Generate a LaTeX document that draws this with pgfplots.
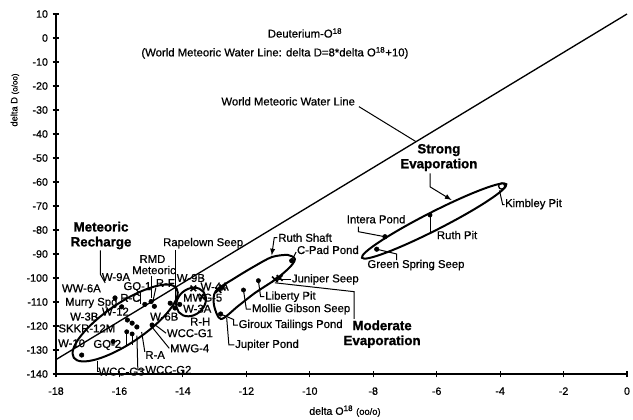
\documentclass[border=0pt]{standalone}
\usepackage{fontspec}
\setmainfont{Liberation Sans}[UprightFeatures={FakeBold=0.7}, BoldFeatures={FakeBold=1.2}]
\usepackage{pgfplots}
\pgfplotsset{compat=1.18}
\begin{document}
\begin{tikzpicture}[
  lbl/.style={font=\fontsize{8.5}{9.5}\selectfont, inner sep=0pt, anchor=west},
  ttl/.style={font=\fontsize{8.5}{9.5}\selectfont, inner sep=0pt},
  big/.style={font=\fontsize{10}{11.2}\selectfont\bfseries, inner sep=0pt, align=center},
  ld/.style={line width=0.75pt},
  rg/.style={line width=1.5pt}]
\useasboundingbox (-42pt,-33.75pt) rectangle (432.75pt,280.5pt);
\begin{axis}[
  width=428.25pt, height=270pt, scale only axis,
  xmin=-18, xmax=0, ymin=-140, ymax=10,
  axis x line=bottom, axis y line=left,
  axis line style={-, line width=1pt},
  xtick={-18,-16,...,0}, ytick={-140,-130,...,10},
  tick align=center, major tick length=5pt,
  tick style={line width=0.9pt, black},
  ticklabel style={font=\fontsize{8}{9}\selectfont},
  xticklabel style={yshift=-4pt},
  /pgf/number format/assume math mode=true,
  xlabel={delta O\textsuperscript{18} {\fontsize{7}{8}\selectfont(oo/o)}},
  ylabel={delta D {\fontsize{6}{7}\selectfont(o/oo)}},
  xlabel style={at={(axis description cs:0.506,-0.103)}, anchor=center, font=\fontsize{8}{9}\selectfont},
  ylabel style={at={(axis description cs:-0.072,0.761)}, anchor=center, font=\fontsize{7}{8}\selectfont},
  clip=false,
]
% World Meteoric Water Line  dD = 8 dO + 10
\addplot[black, line width=1pt] coordinates {(-18,-134) (0,10)};

% sample points
\addplot[only marks, mark=*, mark size=1.7pt, black] coordinates {
(-17.19,-132.1) (-16.2,-126.5) (-16.14,-108.3) (-15.93,-112) (-15.75,-117.5)
(-15.6,-118.8) (-15.45,-120.4) (-15.2,-111) (-15.0,-109.8) (-14.9,-111.8)
(-14.97,-119.6) (-14.4,-110.5) (-14.25,-112.5) (-14.1,-111) (-12.81,-115)
(-10.57,-92.8) (-7.63,-82.8) (-7.89,-88)
};
\addplot[only marks, mark=*, mark size=1.6pt, black] coordinates {
(-15.77,-122.4) (-15.6,-123.3) (-12.09,-105) (-11.62,-101.1) (-6.21,-73.75)
};
\addplot[only marks, mark=x, mark size=3pt, line width=1.2pt, black] coordinates {
(-13.67,-104.3) (-13.4,-107.8) (-12.88,-105) (-12.75,-104) (-11.1,-100.6) (-10.95,-100)
};
\addplot[only marks, mark=o, mark size=2.3pt, line width=1pt, black] coordinates {(-3.95,-61.7)};

% grouping outlines
\draw[rg, rotate around={27:(axis cs:-6.08,-76.25)}] (axis cs:-6.08,-76.25) ellipse [x radius=60.75pt, y radius=6.75pt];
\draw[rg] plot[smooth cycle] coordinates {
(axis cs:-12.80,-117.1) (axis cs:-13.02,-111.25) (axis cs:-12.96,-105.4) (axis cs:-12.36,-100.0)
(axis cs:-11.73,-95.0) (axis cs:-11.19,-91.25) (axis cs:-10.69,-90.4) (axis cs:-10.47,-92.1)
(axis cs:-10.62,-95.4) (axis cs:-11.06,-100.4) (axis cs:-11.73,-106.25) (axis cs:-12.26,-111.7)};
\draw[rg, rotate around={34:(axis cs:-15.82,-118.75)}] (axis cs:-15.82,-118.75) ellipse [x radius=46.5pt, y radius=15pt];
\draw[rg, rotate around={40:(axis cs:-13.74,-110)}] (axis cs:-13.74,-110) ellipse [x radius=12pt, y radius=9.75pt];

% titles
\node[ttl] at (axis cs:-10.15,2.1) {Deuterium-O\textsuperscript{18}};
\node[ttl] at (axis cs:-11.1,-6.2) {(World Meteoric Water Line: delta D=8*delta O\textsuperscript{18}+10)};
\node[ttl] at (axis cs:-10.68,-26.4) {World Meteoric Water Line};
\draw[ld] (axis cs:-8.45,-28.6) -- (axis cs:-6.65,-43.2);

% bold group labels
\node[big] at (axis cs:-16.58,-82.3) {Meteoric\\Recharge};
\node[big] at (axis cs:-5.93,-49.8) {Strong\\Evaporation};
\node[big] at (axis cs:-7.72,-123.4) {Moderate\\Evaporation};
\draw[ld] (axis cs:-16.6,-88.5) -- (axis cs:-16.6,-98.5) -- (axis cs:-16.45,-102);
\draw[ld, -latex] (axis cs:-6.21,-56.4) -- (axis cs:-6.21,-62) -- (axis cs:-5.53,-67.5);
\draw[ld] (axis cs:-11.1,-102) -- (axis cs:-8.6,-105.7) -- (axis cs:-8.6,-117);

% strong evaporation labels
\node[lbl] at (axis cs:-3.85,-69.2) {Kimbley Pit};
\draw[ld] (axis cs:-4.02,-63.5) -- (axis cs:-3.92,-69.4) -- (axis cs:-3.86,-69.4);
\node[lbl] at (axis cs:-8.84,-75.5) {Intera Pond};
\draw[ld] (axis cs:-8.47,-78.6) -- (axis cs:-8.47,-80.7) -- (axis cs:-7.63,-82.8);
\node[lbl] at (axis cs:-6.0,-82.1) {Ruth Pit};
\draw[ld] (axis cs:-6.21,-73.75) -- (axis cs:-6.21,-81.5);
\node[lbl] at (axis cs:-8.19,-94.6) {Green Spring Seep};
\draw[ld] (axis cs:-7.89,-88) -- (axis cs:-7.26,-90) -- (axis cs:-7.26,-92.5);

% moderate evaporation labels
\node[lbl] at (axis cs:-11.0,-83.2) {Ruth Shaft};
\draw[ld, -latex] (axis cs:-11.02,-83.2) -- (axis cs:-11.12,-83.2) -- (axis cs:-11.2,-90.6);
\node[lbl] at (axis cs:-10.41,-88.3) {C-Pad Pond};
\draw[ld] (axis cs:-10.57,-92.8) -- (axis cs:-10.43,-89.2);
\node[lbl] at (axis cs:-10.57,-100.6) {Juniper Seep};
\draw[ld] (axis cs:-11.0,-100.6) -- (axis cs:-10.6,-100.6);
\node[lbl] at (axis cs:-11.41,-107.8) {Liberty Pit};
\draw[ld] (axis cs:-11.62,-101.1) -- (axis cs:-11.55,-107.8) -- (axis cs:-11.43,-107.8);
\node[lbl] at (axis cs:-11.83,-113) {Mollie Gibson Seep};
\draw[ld] (axis cs:-12.09,-105) -- (axis cs:-12.0,-113) -- (axis cs:-11.86,-113);
\node[lbl] at (axis cs:-12.25,-119.6) {Giroux Tailings Pond};
\draw[ld] (axis cs:-12.81,-115) -- (axis cs:-12.4,-117.3) -- (axis cs:-12.4,-119.6) -- (axis cs:-12.27,-119.6);
\node[lbl] at (axis cs:-12.36,-127.9) {Jupiter Pond};
\draw[ld] (axis cs:-12.62,-116.5) -- (axis cs:-12.55,-127.9) -- (axis cs:-12.38,-127.9);
\node[lbl] at (axis cs:-14.63,-85.5) {Rapelown Seep};
\draw[ld] (axis cs:-14.22,-88.3) -- (axis cs:-14.22,-111.2);
\node[lbl] at (axis cs:-13.45,-103.6) {W-4A};

% meteoric labels
\node[ttl] at (axis cs:-14.96,-92.1) {RMD};
\node[ttl] at (axis cs:-14.91,-96.7) {Meteoric};
\draw[ld] (axis cs:-14.98,-99) -- (axis cs:-14.98,-108.3);
\node[lbl] at (axis cs:-16.56,-99.6) {W-9A};
\node[lbl] at (axis cs:-15.88,-103.8) {GQ-1};
\draw[ld] (axis cs:-15.35,-105.7) -- (axis cs:-15.35,-111);
\node[lbl] at (axis cs:-14.86,-102.1) {R-F};
\draw[ld] (axis cs:-14.85,-104) -- (axis cs:-14.95,-110);
\node[lbl] at (axis cs:-14.2,-100) {W-9B};
\node[lbl] at (axis cs:-14.0,-108.2) {MWG-5};
\node[lbl] at (axis cs:-14.0,-112.8) {W-3A};
\node[lbl] at (axis cs:-17.82,-104.3) {WW-6A};
\node[lbl] at (axis cs:-17.72,-110.4) {Murry Spg};
\node[lbl] at (axis cs:-15.98,-108.3) {R-C};
\node[lbl] at (axis cs:-17.56,-116.1) {W-3B};
\node[lbl] at (axis cs:-16.56,-114) {W-12};
\node[lbl] at (axis cs:-15.04,-116.1) {W-6B};
\node[lbl] at (axis cs:-17.93,-121) {SKKR-12M};
\node[lbl] at (axis cs:-13.78,-118.2) {R-H};
\node[lbl] at (axis cs:-14.51,-123) {WCC-G1};
\draw[ld] (axis cs:-14.53,-123) -- (axis cs:-14.85,-119.8);
\node[lbl] at (axis cs:-17.94,-127.2) {W-10};
\node[lbl] at (axis cs:-16.83,-127.9) {GQ-2};
\node[lbl] at (axis cs:-14.41,-129.3) {MWG-4};
\draw[ld] (axis cs:-14.43,-129.3) -- (axis cs:-14.97,-120.5);
\node[lbl] at (axis cs:-15.19,-132.1) {R-A};
\draw[ld] (axis cs:-15.2,-130.8) -- (axis cs:-15.3,-122.5);
\node[lbl] at (axis cs:-16.67,-139) {WCC-G3};
\draw[ld] (axis cs:-16.69,-134.5) -- (axis cs:-16.69,-139) -- (axis cs:-16.68,-139);
\node[lbl] at (axis cs:-15.19,-138.3) {WCC-G2};
\draw[ld] (axis cs:-15.45,-124) -- (axis cs:-15.42,-138.3) -- (axis cs:-15.21,-138.3);
\draw[ld] (axis cs:-15.77,-122.4) -- (axis cs:-15.77,-128);
\draw[ld] (axis cs:-15.6,-123.3) -- (axis cs:-15.6,-128);
\end{axis}
\end{tikzpicture}
\end{document}
